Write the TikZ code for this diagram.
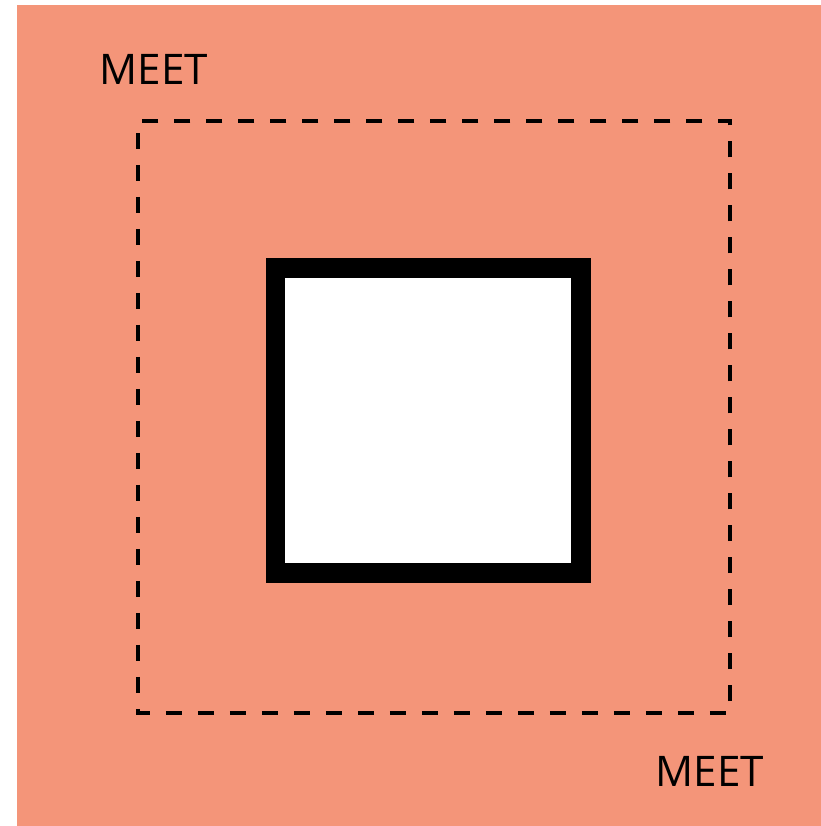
\documentclass[tikz,border=0pt]{standalone}
\usepackage{fontspec}
\setmainfont{Open Sans}
\usepackage{xcolor}
\usetikzlibrary{positioning}
\definecolor{salmon}{RGB}{244,149,121}

\begin{document}
\begin{tikzpicture}[x=0.02cm, y=-0.02cm,
  lbl/.style={inner sep=0pt, font=\fontsize{24}{28}\selectfont, text=black},
  zone/.style={draw=black, line width=0.08cm, dash pattern=on 0.32cm off 0.32cm, dash phase=0.4cm},
  core/.style={draw=black, fill=white, line width=0.4cm}
]
\useasboundingbox (0,0) rectangle (821,826);
\fill[salmon] (17,5) rectangle (821,826);
\draw[zone] (138,121) rectangle (730,713);
\draw[core] (275.5,267.5) rectangle (580.5,572.5);
\node[lbl] (meettop) at (154,69) {MEET};
\node[lbl] (meetbot) at (710,771.5) {MEET};
\end{tikzpicture}
\end{document}
